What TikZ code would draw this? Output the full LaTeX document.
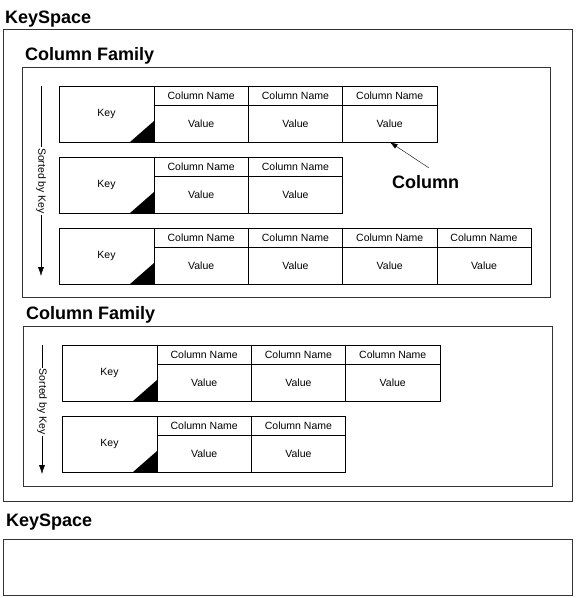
\documentclass[tikz,border=0pt]{standalone}
\usepackage{fontspec}
\setmainfont{Liberation Sans}
\usetikzlibrary{arrows.meta,positioning}

\begin{document}
\begin{tikzpicture}[x=1pt,y=-1pt,>={Latex[length=9pt,width=6pt]},
  box/.style={draw=black!80,line width=0.8pt},
  title/.style={anchor=base west,inner sep=0pt,font=\fontsize{18}{20}\selectfont\bfseries},
  cell/.style={draw,line width=0.6pt,inner sep=0pt,outer sep=0pt,font=\fontsize{10.5}{12}\selectfont},
  key node/.style={cell,anchor=north west,minimum width=95pt,minimum height=56pt},
  name node/.style={cell,anchor=north west,minimum width=94.3pt,minimum height=19pt},
  value node/.style={cell,minimum width=94.3pt,minimum height=37pt},
  sort label/.style={fill=white,rotate=-90,inner sep=1pt,font=\fontsize{10.5}{12}\selectfont}]
  \useasboundingbox (0,0) rectangle (576,598);

  % keyspaces and column families
  \draw[box] (3,29) rectangle (572,501);
  \draw[box] (22,67) rectangle (550,297);
  \draw[box] (23,326) rectangle (552,486);
  \draw[box] (3,539) rectangle (572,595);
  \node[title] (ks1) at (5,23) {KeySpace};
  \node[title] (cf1) at (25,60) {Column Family};
  \node[title] (cf2) at (26,319) {Column Family};
  \node[title] (ks2) at (6,526) {KeySpace};

  % rows
  \node[key node] (k1) at (59,86) {Key};
  \node[key node] (k2) at (59,157) {Key};
  \node[key node] (k3) at (59,228) {Key};
  \node[key node] (k4) at (62,345) {Key};
  \node[key node] (k5) at (62,416) {Key};

  \foreach \r/\n in {1/3,2/2,3/4,4/3,5/2}{
    \node[name node] (n\r-1) at (k\r.north east) {Column Name};
    \foreach \c [remember=\c as \l (initially 1)] in {2,...,\n}{
      \node[name node,right=0pt of n\r-\l] (n\r-\c) {Column Name};
    }
    \foreach \c in {1,...,\n}{
      \node[value node,below=0pt of n\r-\c] (v\r-\c) {Value};
    }
    \fill (k\r.south east) -- ++(0,-21) -- ++(-24,21) -- cycle;
  }

  % sort order
  \coordinate (s1a) at (41,86);
  \coordinate (s1b) at (41,276);
  \coordinate (s2a) at (42,345);
  \coordinate (s2b) at (42,474);
  \draw[->] (s1a) -- node[sort label] {Sorted by Key} (s1b);
  \draw[->] (s2a) -- node[sort label,pos=0.44] {Sorted by Key} (s2b);

  \node[title] (col) at (392,188) {Column};
  \draw[-{Latex[length=8pt,width=5pt]},thin] ([xshift=3pt,yshift=7pt]col.north) -- (v1-3.south);
\end{tikzpicture}
\end{document}
